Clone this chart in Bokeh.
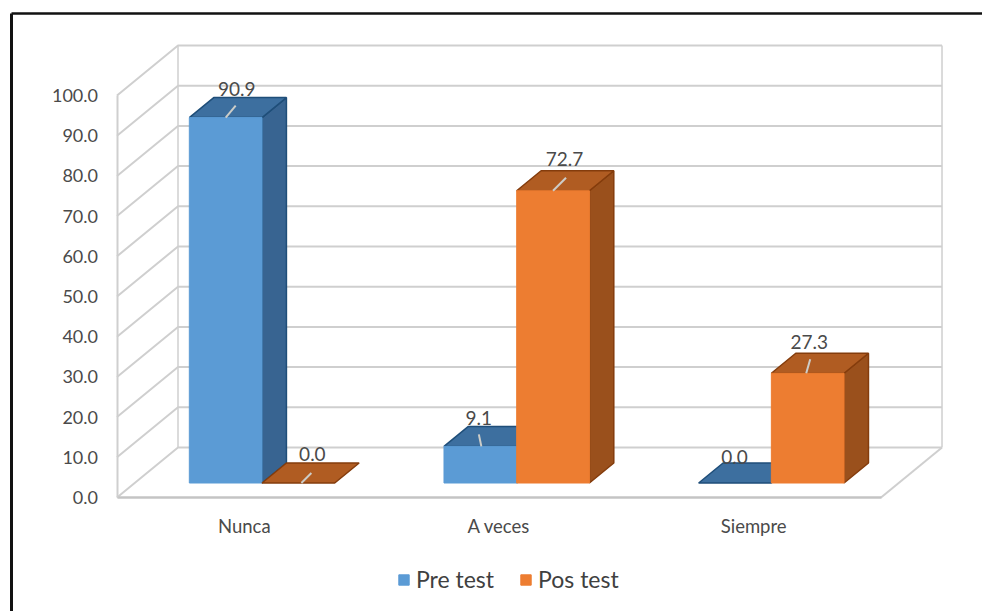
from bokeh.plotting import figure
from bokeh.models import ColumnDataSource, LinearAxis, FixedTicker, NumeralTickFormatter, Range1d, Legend, LegendItem
from bokeh.core.properties import value
from bokeh.embed import file_html
from bokeh.resources import INLINE

categories = ["Nunca", "A veces", "Siempre"]
pre_test = [90.9, 9.1, 0.0]
pos_test = [0.0, 72.7, 27.3]
y_ticks = [0, 10, 20, 30, 40, 50, 60, 70, 80, 90, 100]
series_names = ["Pre test", "Pos test"]

W, H = 982, 611
PX_X = 254.67      # pixels per category
PX_Y = 4.02        # pixels per percent
ORIGIN_X, ORIGIN_Y = 116.5, 114   # figure pixels of the front origin (from left, from bottom)
DEPTH_X, DEPTH_Y = 61 / PX_X, 50 / PX_Y
FONT = "Lato"
TEXT = "#4a4a4a"
GRID = "#cfcfcf"

p = figure(width=W, height=H, output_backend="svg", toolbar_location=None,
           x_axis_type=None, y_axis_type=None, min_border=0,
           x_range=Range1d(-ORIGIN_X / PX_X, (W - ORIGIN_X) / PX_X),
           y_range=Range1d(-ORIGIN_Y / PX_Y, (H - ORIGIN_Y) / PX_Y),
           outline_line_color=None, background_fill_color="white", border_fill_color="white")
p.grid.visible = False

def dx(px): return px / PX_X
def dy(px): return px / PX_Y

# outer frame of the picture
fx0, fy_top = dx(11 - ORIGIN_X), dy(H - 13 - ORIGIN_Y)
p.line([fx0, fx0], [-ORIGIN_Y / PX_Y, fy_top], line_color="#111111", line_width=3)
p.line([fx0, (W - ORIGIN_X) / PX_X], [fy_top, fy_top], line_color="#111111", line_width=2.5)

# walls
n = len(categories)
for t in y_ticks:
    p.line([0, DEPTH_X, n + DEPTH_X], [t, t + DEPTH_Y, t + DEPTH_Y], line_color=GRID, line_width=2)
top = y_ticks[-1]
p.line([DEPTH_X, DEPTH_X], [DEPTH_Y, top + DEPTH_Y], line_color=GRID, line_width=1.5)
p.line([n + DEPTH_X, n + DEPTH_X], [DEPTH_Y, top + DEPTH_Y], line_color=GRID, line_width=1.5)
p.line([n, n + DEPTH_X], [0, DEPTH_Y], line_color=GRID, line_width=2)

# bars
BAR_W = 72.7 / PX_X
PLANE = 0.29
BAR_DEPTH = 0.40
base = PLANE * DEPTH_Y
plane_x = PLANE * DEPTH_X
ddx, ddy = BAR_DEPTH * DEPTH_X, BAR_DEPTH * DEPTH_Y

COLORS = [
    dict(front="#5b9bd5", top="#3d6f9f", side="#386491", edge="#1f4e79"),
    dict(front="#ed7d31", top="#b05c22", side="#9a501c", edge="#843c0c"),
]
front_renderers = []
label_xs, label_ys, label_txt, label_ox, label_oy = [], [], [], [], []
label_offsets = [[(11, -29), (-1.5, -28), (-0.5, -26)], [(14, -29), (11.5, -32), (1.5, -31)]]
leader_offsets = [[(0, 0, 10, -12), (1, 0, -1.5, -12), None],
                  [(3, 0, 13, -10), (0, 0, 13, -13), (-1.5, 0, 2.5, -14)]]
for s, vals in enumerate([pre_test, pos_test]):
    c = COLORS[s]
    x0 = [i + 0.5 + plane_x - BAR_W + s * BAR_W for i in range(n)]
    x1 = [a + BAR_W for a in x0]
    y1 = [base + v for v in vals]
    tops_x = [[a, b, b + ddx, a + ddx] for a, b in zip(x0, x1)]
    tops_y = [[t, t, t + ddy, t + ddy] for t in y1]
    sides_x = [[b, b + ddx, b + ddx, b] for b in x1]
    sides_y = [[base, base + ddy, t + ddy, t] for t in y1]
    visible = [i for i, v in enumerate(vals) if v > 0]
    p.patches([sides_x[i] for i in visible], [sides_y[i] for i in visible],
              fill_color=c["side"], line_color=c["edge"], line_width=1.5)
    p.patches(tops_x, tops_y, fill_color=c["top"], line_color=c["edge"], line_width=1.5)
    src = ColumnDataSource(dict(left=[x0[i] for i in visible], right=[x1[i] for i in visible],
                                top=[y1[i] for i in visible], bottom=[base] * len(visible)))
    r = p.quad(left="left", right="right", top="top", bottom="bottom", source=src,
               fill_color=c["front"], line_color=c["front"], line_width=1)
    front_renderers.append(r)
    for i, v in enumerate(vals):
        cx = (x0[i] + x1[i]) / 2
        label_xs.append(cx); label_ys.append(y1[i]); label_txt.append(f"{v:.1f}")
        label_ox.append(label_offsets[s][i][0]); label_oy.append(label_offsets[s][i][1])
        lo = leader_offsets[s][i]
        if lo:
            p.line([cx + dx(lo[0]), cx + dx(lo[2])], [y1[i] - dy(lo[1]), y1[i] - dy(lo[3])],
                   line_color="#cdcdc8", line_width=2)

p.text(x="x", y="y", text="t", x_offset="ox", y_offset="oy",
       source=ColumnDataSource(dict(x=label_xs, y=label_ys, t=label_txt, ox=label_ox, oy=label_oy)),
       text_font=value(FONT), text_font_size="19px", text_color=TEXT,
       text_align="center", text_baseline="middle")

# axes
yaxis = LinearAxis(ticker=FixedTicker(ticks=y_ticks), formatter=NumeralTickFormatter(format="0.0"),
                   fixed_location=0, bounds=(0, 100))
yaxis.axis_line_color = GRID
yaxis.axis_line_width = 2
yaxis.major_tick_line_color = None
yaxis.minor_tick_line_color = None
yaxis.major_label_standoff = 13
yaxis.major_label_text_font = FONT
yaxis.major_label_text_font_size = "18px"
yaxis.major_label_text_color = TEXT
p.add_layout(yaxis, "left")

xaxis = LinearAxis(ticker=FixedTicker(ticks=[i + 0.5 for i in range(n)]),
                   major_label_overrides={i + 0.5: c for i, c in enumerate(categories)},
                   fixed_location=0, bounds=(0, n))
xaxis.axis_line_color = "#c4c4c4"
xaxis.axis_line_width = 2.5
xaxis.major_tick_line_color = None
xaxis.minor_tick_line_color = None
xaxis.major_label_standoff = 11
xaxis.major_label_text_font = FONT
xaxis.major_label_text_font_size = "18.5px"
xaxis.major_label_text_color = TEXT
p.add_layout(xaxis, "below")

legend = Legend(items=[LegendItem(label=series_names[i], renderers=[front_renderers[i]]) for i in range(2)],
                orientation="horizontal", location=(397, 18), background_fill_alpha=0,
                border_line_color=None, glyph_width=13, glyph_height=13, label_standoff=6,
                spacing=25, margin=0, padding=0, label_text_font=FONT,
                label_text_font_size="23px", label_text_color="#404040")
p.add_layout(legend, "center")

open("out.html", "w").write(file_html(p, INLINE))
